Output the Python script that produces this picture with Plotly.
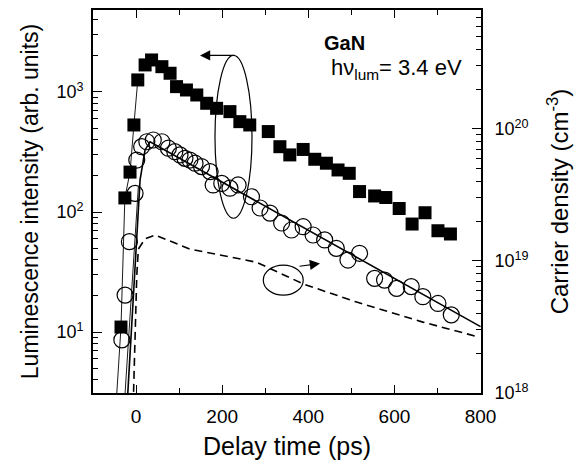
import plotly.graph_objects as go

# ---- data ----
# filled squares: luminescence intensity (left axis)
sq_t = [-35, -26, -14, -5, 4, 21, 36, 60, 79, 94, 117, 141, 164, 187, 218, 241, 264,
        307, 334, 357, 388, 415, 442, 469, 495, 519, 554, 580, 611, 641, 671, 701, 730]
sq_I = [11, 131, 215, 531, 1260, 1680, 1848, 1625, 1432, 1108, 1039, 944, 805, 731, 686, 566, 531,
        468, 350, 299, 332, 275, 255, 224, 210, 148, 136, 132, 107, 79.4, 98.6, 69.8, 65.6]

# open circles: luminescence intensity (left axis)
ci_t = [-33, -25.5, -15.5, -2.3, 1.6, 13, 25, 40, 60, 75, 90, 102, 113.6, 125, 137, 152, 172,
        179, 199, 218, 237, 268, 288, 311, 338, 361, 388, 411, 438, 465, 492, 519, 554, 577,
        605, 639, 666, 701, 732]
ci_I = [8.6, 20.3, 56.6, 143, 271, 350, 385, 398, 385, 340, 318, 299, 280, 271, 255, 239, 217,
        168, 173, 158, 168, 134, 108, 98, 81, 70.8, 75.4, 64.3, 58.5, 49.8, 39.8, 45.3, 28, 27.1,
        23.1, 23.9, 19.7, 17.3, 13.9]

# solid fit curve through circles (left axis)
fit_t = [-19.2, 9.3, 20.9, 32.5, 800]
fit_I = [3.1, 185, 329, 385, 11.1]

# thin guide lines on the rising edge (left axis)
rise_sq_t = [-44.7, -35, -26, -14, -5, 4]
rise_sq_I = [3.1, 11, 131, 215, 531, 1260]
rise_ci_t = [-25.5, 5.3]
rise_ci_I = [3.1, 163]

# dashed: carrier density (right axis)
n_t = [-5.8, 1.6, 5.3, 20.9, 44, 125, 280, 388, 512, 666, 793]
n_val = [1.02e18, 7.7e18, 1.23e19, 1.47e19, 1.57e19, 1.23e19, 9.77e18, 6.7e18, 4.88e18, 3.44e18, 2.67e18]

x_ticks = [0, 200, 400, 600, 800]
y_ticks = [10, 100, 1000]
y_ticktext = ["10<sup>1</sup>", "10<sup>2</sup>", "10<sup>3</sup>"]
y2_ticks = [1e18, 1e19, 1e20]
y2_ticktext = ["10<sup>18</sup>", "10<sup>19</sup>", "10<sup>20</sup>"]

FONT = "Liberation Sans, Arial, Helvetica, sans-serif"

fig = go.Figure()

fig.add_trace(go.Scatter(x=n_t, y=n_val, yaxis="y2", mode="lines",
                         line=dict(color="black", width=1.6, dash="8px,5px"),
                         showlegend=False, hoverinfo="skip"))
fig.add_trace(go.Scatter(x=rise_sq_t, y=rise_sq_I, mode="lines",
                         line=dict(color="black", width=0.9), showlegend=False))
fig.add_trace(go.Scatter(x=rise_ci_t, y=rise_ci_I, mode="lines",
                         line=dict(color="black", width=0.9), showlegend=False))
fig.add_trace(go.Scatter(x=fit_t, y=fit_I, mode="lines",
                         line=dict(color="black", width=1.6), showlegend=False))
fig.add_trace(go.Scatter(x=ci_t, y=ci_I, mode="markers",
                         marker=dict(symbol="circle-open", size=16, color="black",
                                     line=dict(width=1.2, color="black")),
                         showlegend=False))
fig.add_trace(go.Scatter(x=sq_t, y=sq_I, mode="markers",
                         marker=dict(symbol="square", size=13, color="black"),
                         showlegend=False))

# ellipses (decorations)
fig.add_shape(type="circle", xref="paper", yref="paper",
              x0=0.3144, x1=0.4098, y0=0.4563, y1=0.8814,
              line=dict(color="black", width=1.2))
fig.add_shape(type="circle", xref="paper", yref="paper",
              x0=0.4389, x1=0.5418, y0=0.2555, y1=0.3338,
              line=dict(color="black", width=1.2))

fig.add_annotation(xref="paper", yref="paper", x=0.2758, y=0.8814,
                   ax=36, ay=0, axref="pixel", ayref="pixel", text="",
                   showarrow=True, arrowhead=2, arrowsize=1.7, arrowwidth=1.2,
                   arrowcolor="black")
fig.add_annotation(xref="paper", yref="paper", x=0.585, y=0.3382,
                   ax=-22, ay=3, axref="pixel", ayref="pixel", text="",
                   showarrow=True, arrowhead=2, arrowsize=1.7, arrowwidth=1.2,
                   arrowcolor="black")

fig.add_annotation(xref="paper", yref="paper", x=0.589, y=0.915, xanchor="left",
                   yanchor="middle", text="<b>GaN</b>", showarrow=False,
                   font=dict(family=FONT, size=20, color="black"))
fig.add_annotation(xref="paper", yref="paper", x=0.607, y=0.845, xanchor="left",
                   yanchor="middle", text="hν<sub>lum</sub>= 3.4 eV", showarrow=False,
                   font=dict(family=FONT, size=22, color="black"))

axis_common = dict(showgrid=False, zeroline=False, linecolor="black", linewidth=1.6,
                   tickcolor="black", tickwidth=1.4, ticks="inside", automargin=False)

# The page body has an 8px margin, so the figure is made 8px smaller
fig.update_layout(
    width=577, height=456,
    margin=dict(l=85, r=104, t=2, b=71),
    paper_bgcolor="white", plot_bgcolor="white",
    font=dict(family=FONT, color="black"),
    xaxis=dict(range=[-100, 801], tickvals=x_ticks, ticklen=8, showline=True,
               mirror="ticks", ticklabelstandoff=5,
               tickfont=dict(family=FONT, size=19, color="black"),
               minor=dict(dtick=100, tick0=0, ticks="inside", ticklen=5, tickcolor="black"),
               title=dict(text="Delay time (ps)", font=dict(family=FONT, size=25), standoff=12),
               **axis_common),
    yaxis=dict(type="log", range=[0.492, 3.683], tickvals=y_ticks, ticktext=y_ticktext,
               ticklen=9, showline=True, mirror=False,
               tickfont=dict(family=FONT, size=18, color="black"),
               minor=dict(dtick="D1", ticks="inside", ticklen=5, tickcolor="black"),
               ticklabelstandoff=4,
               title=dict(text="Luminescence intensity (arb. units)",
                          font=dict(family=FONT, size=23), standoff=12),
               **axis_common),
    yaxis2=dict(type="log", range=[18.0, 20.9], overlaying="y", side="right",
                tickvals=y2_ticks, ticktext=y2_ticktext, ticklen=9, showline=True,
                tickfont=dict(family=FONT, size=18, color="black"),
                minor=dict(dtick="D1", ticks="inside", ticklen=5, tickcolor="black"),
                ticklabelstandoff=8,
                title=dict(text="Carrier density (cm<sup>-3</sup>)",
                           font=dict(family=FONT, size=24), standoff=24),
                **axis_common),
)

fig.write_html("out.html")
